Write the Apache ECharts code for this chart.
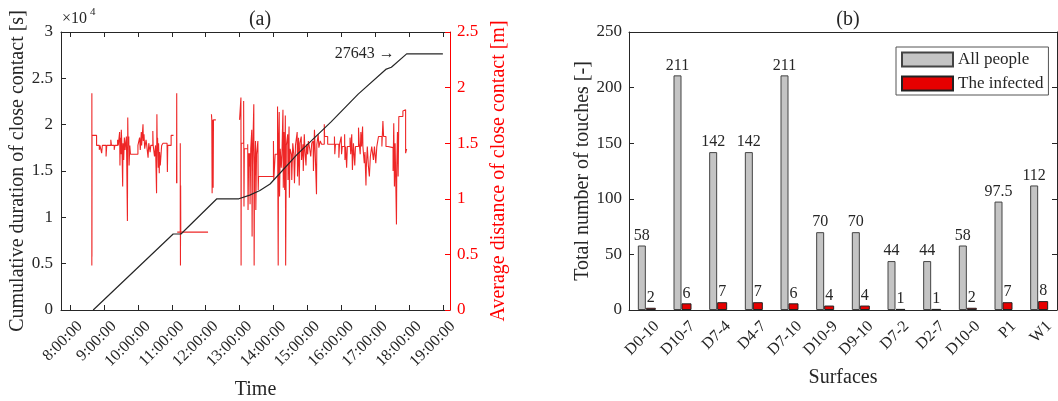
<!DOCTYPE html>
<html><head><meta charset="utf-8">
<script src="https://cdn.jsdelivr.net/npm/echarts@6/dist/echarts.min.js"></script>
<style>html,body{margin:0;padding:0;background:#fff}#c{width:1058px;height:401px}</style>
</head><body><div id="c"></div>
<script>
const FONT = '"Liberation Serif","Times New Roman",serif';
const INK = '#262626';
const RED = '#e60000';

// ---- (a) data ----
const hourTicks = [8, 9, 10, 11, 12, 13, 14, 15, 16, 17, 18, 19];
const cumHours   = [8.68, 11.04, 11.27, 12.33, 12.98, 13.30, 13.60, 13.90, 14.70, 15.70, 16.50, 17.33, 17.48, 17.93, 19.00];
const cumSeconds = [0, 8200, 8200, 12000, 12000, 12400, 12900, 13600, 16800, 20300, 23300, 26000, 26200, 27643, 27643];

const distHours = [
  8.640, 8.641, 8.643, 8.646, 8.78, 8.86, 8.88, 8.93, 8.95, 9.06, 9.08, 9.20, 9.22, 9.30, 9.32, 9.40, 9.42,
  9.46, 9.47, 9.48, 9.50, 9.51, 9.53, 9.55, 9.56, 9.58, 9.60, 9.62, 9.66, 9.67, 9.69, 9.70, 9.71, 9.73, 9.74,
  9.76, 9.78, 10.00, 10.05, 10.07, 10.10, 10.11, 10.15, 10.16, 10.18, 10.20, 10.24, 10.26, 10.30, 10.32, 10.36,
  10.38, 10.44, 10.45, 10.49, 10.52, 10.55, 10.56, 10.57, 10.58, 10.60, 10.61, 10.63, 10.64, 10.66, 10.70, 10.74,
  10.86, 10.87, 10.88, 10.98, 11.05, 11.06,
  11.14, 11.145, 11.15, 11.155,
  11.16, 11.25, 11.255, 11.26, 11.265, 12.07, 12.08,
  12.17, 12.18, 12.19, 12.20, 12.22, 12.23, 12.30, 12.31,
  13.00, 13.04, 13.045, 13.05, 13.12, 13.13, 13.14, 13.24, 13.25, 13.27, 13.29, 13.30, 13.31, 13.33, 13.36, 13.37,
  13.38, 13.42, 13.43, 13.44, 13.47, 13.48, 13.50, 13.54, 13.55, 13.56, 14.00, 14.01, 14.05, 14.12, 14.13, 14.14,
  14.15, 14.17, 14.18, 14.20, 14.23, 14.25, 14.28, 14.29, 14.31, 14.33, 14.35, 14.36, 14.38, 14.42, 14.43, 14.46,
  14.47, 14.49, 14.53, 14.54, 14.57, 14.60, 14.62, 14.65, 14.70, 14.71, 14.74, 14.76, 14.78, 14.82, 14.83, 14.87,
  14.88, 14.91, 14.93, 14.96, 14.98, 15.01, 15.03, 15.07, 15.10, 15.13, 15.17, 15.18, 15.21, 15.23, 15.27, 15.28,
  15.32, 15.34, 15.38, 15.42, 15.50, 15.51, 15.60, 15.80, 15.81, 15.83, 15.93, 15.95, 16.00, 16.01, 16.03, 16.10,
  16.11, 16.13, 16.16, 16.18, 16.26, 16.28, 16.31, 16.33, 16.36, 16.40, 16.42, 16.51, 16.53, 16.56, 16.58, 16.60,
  16.63, 16.64, 16.68, 16.70, 16.73, 16.74, 16.77, 16.80, 16.83, 16.86, 16.90, 16.95, 16.98, 17.02, 17.05, 17.10,
  17.20, 17.23, 17.25, 17.32, 17.38, 17.53, 17.55, 17.57, 17.59, 17.61, 17.63, 17.64, 17.66, 17.68, 17.70, 17.82,
  17.87, 17.90, 17.93
];
const distMeters = [
  0.40, 1.95, 0.48, 1.57, 1.48, 1.44, 1.48, 1.41, 1.48, 1.38, 1.48, 1.53, 1.48, 1.44, 1.48, 1.53, 1.48,
  1.60, 1.30, 1.55, 1.40, 1.62, 1.45, 1.11, 1.50, 1.35, 1.55, 1.44, 1.56, 1.33, 0.80, 1.73, 1.48, 1.56, 1.30,
  1.48, 1.40, 1.48, 1.55, 1.44, 1.60, 1.48, 1.67, 1.52, 1.58, 1.45, 1.53, 1.48, 1.37, 1.50, 1.42,
  1.48, 1.61, 1.48, 1.38, 1.48, 1.05, 1.76, 1.45, 1.55, 1.28, 1.50, 1.23, 1.42, 1.30, 1.48, 1.50,
  1.48, 1.24, 1.48, 1.57, 1.57, null,
  1.14, 1.95, 1.14, null,
  0.70, 1.50, 0.40, 1.12, 0.70, 0.70, null,
  1.76, 1.71, 1.05, 1.71, 1.10, 1.71, 1.71, null,
  1.71, 1.91, 0.40, 1.50, 1.88, 0.93, 1.45, 1.49, 0.90, 1.41, 1.29, 1.41, 0.95, 1.45, 1.62, 0.66,
  1.30, 1.85, 0.40, 1.20, 1.52, 0.90, 1.40, 1.52, 1.08, 1.20, 1.52, 1.17, 1.40, 1.83, 1.10, 0.40,
  1.50, 1.78, 1.02, 1.45, 1.28, 1.40, 1.80, 1.10, 1.60, 1.08, 1.75, 0.40, 1.48, 1.58, 1.17, 1.65,
  1.01, 1.45, 1.40, 1.17, 1.50, 1.40, 1.14, 1.48, 1.60, 1.20, 1.55, 1.12, 1.50, 1.56, 1.35, 1.49,
  1.25, 1.58, 1.43, 1.30, 1.49, 1.40, 1.52, 1.45, 1.38, 1.50, 1.52, 1.25, 1.62, 1.44, 1.04, 1.49,
  1.58, 1.46, 1.52, 1.49, 1.67, 1.56, 1.49, 1.56, 1.40, 1.49, 1.37, 1.49, 1.56, 1.40, 1.47, 1.58,
  1.35, 1.47, 1.28, 1.47, 1.55, 1.40, 1.58, 1.26, 1.50, 1.30, 1.47, 1.64, 1.50, 1.40, 1.60, 1.47,
  1.65, 1.47, 1.32, 1.42, 1.12, 1.28, 1.47, 1.30, 1.20, 1.38, 1.47, 1.35, 1.47, 1.32, 1.47, 1.56,
  1.47, 1.70, 1.56, 1.47, 1.46, 1.25, 1.68, 1.11, 1.50, 1.15, 0.77, 1.30, 1.60, 1.20, 1.74, 1.79,
  1.80, 1.41, 1.45
];

// ---- (b) data ----
const surfaces  = ['D0-10', 'D10-7', 'D7-4', 'D4-7', 'D7-10', 'D10-9', 'D9-10', 'D7-2', 'D2-7', 'D10-0', 'P1', 'W1'];
const allPeople = [58, 211, 142, 142, 211, 70, 70, 44, 44, 58, 97.5, 112];
const infected  = [2, 6, 7, 7, 6, 4, 4, 1, 1, 2, 7, 8];

const cumData  = cumHours.map((h, i) => [h, cumSeconds[i]]);
const distData = distHours.map((h, i) => [h, distMeters[i] === null ? '-' : distMeters[i]]);

const tickStyle = (c) => ({ color: c, width: 1 });
const lblBase = { fontFamily: FONT, color: INK };

const chart = echarts.init(document.getElementById('c'), null, { renderer: 'canvas' });
chart.setOption({
  animation: false,
  backgroundColor: '#fff',
  textStyle: { fontFamily: FONT },
  title: [
    { text: '(a)', left: 255, top: 5, textAlign: 'center', textStyle: { fontSize: 20, fontWeight: 'normal', fontFamily: FONT, color: INK } },
    { text: '(b)', left: 843, top: 5, textAlign: 'center', textStyle: { fontSize: 20, fontWeight: 'normal', fontFamily: FONT, color: INK } }
  ],
  graphic: [
    { type: 'text', left: 62, top: 11, style: { text: '×10', fontSize: 16, fontFamily: FONT, fill: INK } },
    { type: 'text', left: 90, top: 7, style: { text: '4', fontSize: 11, fontFamily: FONT, fill: INK } }
  ],
  legend: {
    orient: 'vertical', left: 896, top: 47,
    itemWidth: 51, itemHeight: 14, itemGap: 7,
    padding: [4, 5, 3, 5],
    borderColor: '#555', borderWidth: 1, backgroundColor: '#fff',
    textStyle: { fontSize: 17, fontFamily: FONT, color: INK },
    data: ['All people', 'The infected'],
    icon: 'rect'
  },
  grid: [
    { left: 61, top: 32, width: 389, height: 278, outerBoundsMode: 'none', containLabel: false },
    { left: 629, top: 32, width: 428, height: 278, outerBoundsMode: 'none', containLabel: false }
  ],
  xAxis: [
    {
      type: 'value', gridIndex: 0, min: 7.73, max: 19.21, position: 'bottom',
      axisLine: { onZero: false, lineStyle: tickStyle(INK) },
      axisTick: { inside: true, length: 5, customValues: hourTicks, lineStyle: tickStyle(INK) },
      axisLabel: Object.assign({ customValues: hourTicks, formatter: v => v + ':00:00', rotate: 45, fontSize: 16, margin: 4, verticalAlign: 'top', padding: [6, 0, 0, 0] }, lblBase),
      splitLine: { show: false },
      name: 'Time', nameLocation: 'middle', nameGap: 70,
      nameTextStyle: { fontSize: 20, fontFamily: FONT, color: INK }
    },
    {
      type: 'value', gridIndex: 0, min: 7.73, max: 19.21, position: 'top',
      axisLine: { onZero: false, lineStyle: tickStyle(INK) },
      axisTick: { inside: true, length: 5, customValues: hourTicks, lineStyle: tickStyle(INK) },
      axisLabel: { show: false },
      splitLine: { show: false }
    },
    {
      type: 'category', gridIndex: 1, data: surfaces, position: 'bottom',
      axisLine: { onZero: false, lineStyle: tickStyle(INK) },
      axisTick: { inside: true, length: 5, alignWithLabel: true, lineStyle: tickStyle(INK) },
      axisLabel: Object.assign({ interval: 0, rotate: 45, fontSize: 16, margin: 4, verticalAlign: 'top', padding: [6, 0, 0, 0] }, lblBase),
      name: 'Surfaces', nameLocation: 'middle', nameGap: 58,
      nameTextStyle: { fontSize: 20, fontFamily: FONT, color: INK }
    },
    {
      type: 'category', gridIndex: 1, data: surfaces, position: 'top',
      axisLine: { onZero: false, lineStyle: tickStyle(INK) },
      axisTick: { inside: true, length: 5, alignWithLabel: true, lineStyle: tickStyle(INK) },
      axisLabel: { show: false }
    }
  ],
  yAxis: [
    {
      type: 'value', gridIndex: 0, min: 0, max: 30000, interval: 5000, position: 'left',
      axisLine: { show: true, onZero: false, lineStyle: tickStyle(INK) },
      axisTick: { show: true, inside: true, length: 5, lineStyle: tickStyle(INK) },
      axisLabel: Object.assign({ formatter: v => String(v / 10000), fontSize: 17, margin: 8 }, lblBase),
      splitLine: { show: false },
      name: 'Cumulative duration of close contact [s]', nameLocation: 'middle', nameRotate: 90, nameGap: 33,
      nameTextStyle: { fontSize: 20, fontFamily: FONT, color: INK }
    },
    {
      type: 'value', gridIndex: 0, min: 0, max: 2.5, interval: 0.5, position: 'right',
      axisLine: { show: true, onZero: false, lineStyle: tickStyle('#ff0000') },
      axisTick: { show: true, inside: true, length: 5, lineStyle: tickStyle('#ff0000') },
      axisLabel: { formatter: v => String(v), fontSize: 17, margin: 7, fontFamily: FONT, color: '#ff0000' },
      splitLine: { show: false },
      name: 'Average distance of close contact [m]', nameLocation: 'middle', nameRotate: 90, nameGap: 39,
      nameTextStyle: { fontSize: 20, fontFamily: FONT, color: '#ff0000' }
    },
    {
      type: 'value', gridIndex: 1, min: 0, max: 250, interval: 50, position: 'left',
      axisLine: { show: true, onZero: false, lineStyle: tickStyle(INK) },
      axisTick: { show: true, inside: true, length: 5, lineStyle: tickStyle(INK) },
      axisLabel: Object.assign({ fontSize: 17, margin: 7 }, lblBase),
      splitLine: { show: false },
      name: 'Total number of touches [-]', nameLocation: 'middle', nameRotate: 90, nameGap: 36,
      nameTextStyle: { fontSize: 20, fontFamily: FONT, color: INK }
    },
    {
      type: 'value', gridIndex: 1, min: 0, max: 250, interval: 50, position: 'right',
      axisLine: { show: true, onZero: false, lineStyle: tickStyle(INK) },
      axisTick: { show: true, inside: true, length: 5, lineStyle: tickStyle(INK) },
      axisLabel: { show: false },
      splitLine: { show: false }
    }
  ],
  series: [
    {
      name: 'distance', type: 'line', xAxisIndex: 0, yAxisIndex: 1,
      data: distData, step: 'end', symbol: 'none', connectNulls: false,
      lineStyle: { color: 'rgba(235,0,0,0.85)', width: 1.1 }
    },
    {
      name: 'cumulative', type: 'line', xAxisIndex: 0, yAxisIndex: 0,
      data: cumData, symbol: 'none',
      lineStyle: { color: '#262626', width: 1.2 },
      markPoint: {
        symbol: 'circle', symbolSize: 0,
        data: [{ coord: [cumHours[13], cumSeconds[13]], value: cumSeconds[13] }],
        label: { show: true, position: 'left', distance: 12, formatter: p => p.value + ' →', fontSize: 16, fontFamily: FONT, color: INK }
      }
    },
    {
      name: 'All people', type: 'bar', xAxisIndex: 2, yAxisIndex: 2,
      data: allPeople, barWidth: 8, barGap: '0%',
      itemStyle: { color: '#c4c4c4', borderColor: '#444', borderWidth: 1 },
      label: { show: true, position: 'top', distance: 2, fontSize: 16, fontFamily: FONT, color: INK }
    },
    {
      name: 'The infected', type: 'bar', xAxisIndex: 2, yAxisIndex: 2,
      data: infected, barWidth: 10, barGap: '0%',
      itemStyle: { color: '#e60000', borderColor: '#222', borderWidth: 1 },
      label: { show: true, position: 'top', distance: 2, fontSize: 16, fontFamily: FONT, color: INK }
    }
  ]
});
</script>
</body></html>
